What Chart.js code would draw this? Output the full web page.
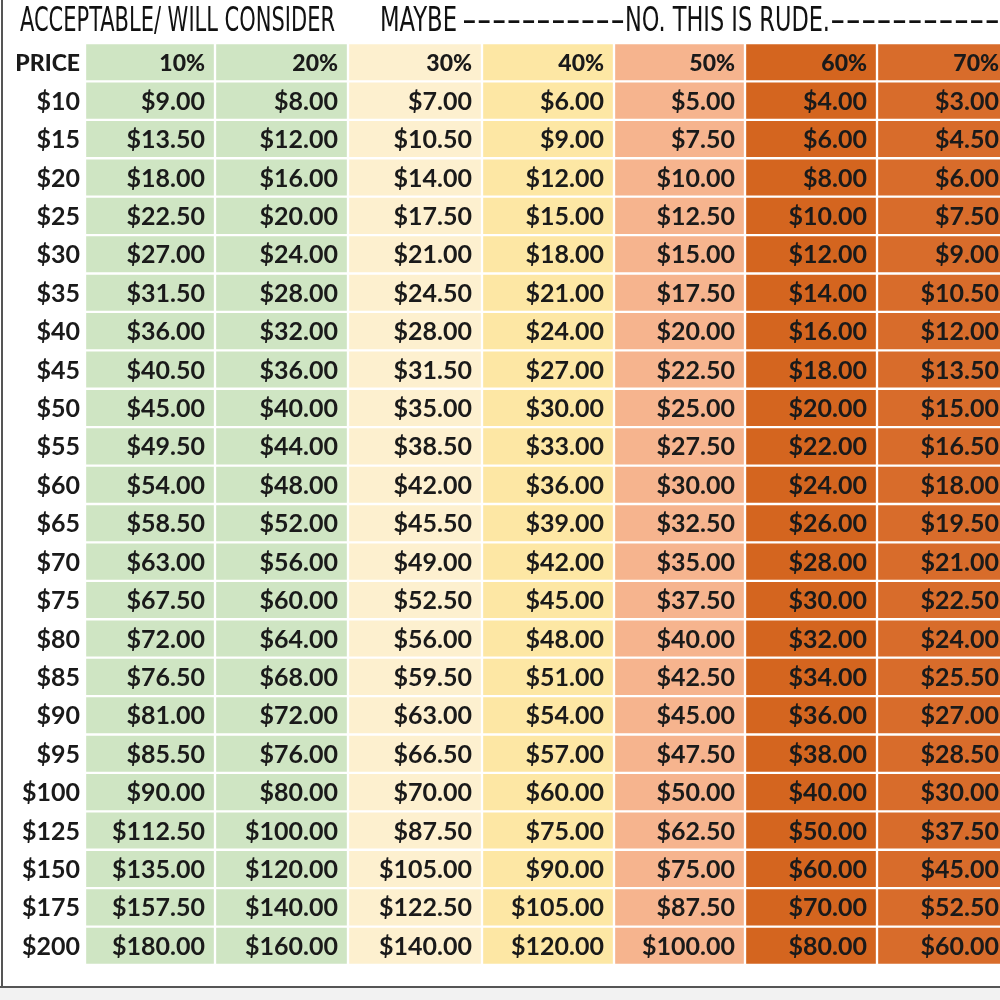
<!DOCTYPE html>
<html><head><meta charset="utf-8">
<script src="https://cdn.jsdelivr.net/npm/chart.js@4"></script>
<style>html,body{margin:0;padding:0;background:#fff}#w{width:1000px;height:1000px;position:relative}</style>
</head><body><div id="w"><canvas id="c"></canvas></div>
<script>
const columns = ['PRICE','10%','20%','30%','40%','50%','60%','70%'];
const colWidths = [85,130,133,134,132,131,132,132];
const colColors = ['#ffffff','#cfe5c3','#cfe5c3','#fdf0cf','#fde7a4','#f6b48e','#d4651f','#d86c2b'];
const prices = ['$10','$15','$20','$25','$30','$35','$40','$45','$50','$55','$60','$65','$70','$75','$80','$85','$90','$95','$100','$125','$150','$175','$200'];
const off10 = ['$9.00','$13.50','$18.00','$22.50','$27.00','$31.50','$36.00','$40.50','$45.00','$49.50','$54.00','$58.50','$63.00','$67.50','$72.00','$76.50','$81.00','$85.50','$90.00','$112.50','$135.00','$157.50','$180.00'];
const off20 = ['$8.00','$12.00','$16.00','$20.00','$24.00','$28.00','$32.00','$36.00','$40.00','$44.00','$48.00','$52.00','$56.00','$60.00','$64.00','$68.00','$72.00','$76.00','$80.00','$100.00','$120.00','$140.00','$160.00'];
const off30 = ['$7.00','$10.50','$14.00','$17.50','$21.00','$24.50','$28.00','$31.50','$35.00','$38.50','$42.00','$45.50','$49.00','$52.50','$56.00','$59.50','$63.00','$66.50','$70.00','$87.50','$105.00','$122.50','$140.00'];
const off40 = ['$6.00','$9.00','$12.00','$15.00','$18.00','$21.00','$24.00','$27.00','$30.00','$33.00','$36.00','$39.00','$42.00','$45.00','$48.00','$51.00','$54.00','$57.00','$60.00','$75.00','$90.00','$105.00','$120.00'];
const off50 = ['$5.00','$7.50','$10.00','$12.50','$15.00','$17.50','$20.00','$22.50','$25.00','$27.50','$30.00','$32.50','$35.00','$37.50','$40.00','$42.50','$45.00','$47.50','$50.00','$62.50','$75.00','$87.50','$100.00'];
const off60 = ['$4.00','$6.00','$8.00','$10.00','$12.00','$14.00','$16.00','$18.00','$20.00','$22.00','$24.00','$26.00','$28.00','$30.00','$32.00','$34.00','$36.00','$38.00','$40.00','$50.00','$60.00','$70.00','$80.00'];
const off70 = ['$3.00','$4.50','$6.00','$7.50','$9.00','$10.50','$12.00','$13.50','$15.00','$16.50','$18.00','$19.50','$21.00','$22.50','$24.00','$25.50','$27.00','$28.50','$30.00','$37.50','$45.00','$52.50','$60.00'];
const titles = ['ACCEPTABLE/ WILL CONSIDER','MAYBE','-----------','NO. THIS IS RUDE.','-----------'];

const colText = [prices,off10,off20,off30,off40,off50,off60,off70];
const rows = ['HEADER'].concat(prices);

const datasets = columns.map((c,i)=>({
  label:c,
  data: rows.map(()=>colWidths[i]),
  backgroundColor: colColors[i],
  borderColor: i===0 ? '#ffffff' : 'rgba(255,255,255,0.85)',
  borderWidth: i===0 ? 0 : 1.5,
  borderSkipped:false,
  barPercentage:1, categoryPercentage:1
}));

const textPlugin = {
  id:'txt',
  afterDraw(chart){
    const ctx=chart.ctx; ctx.save();
    ctx.fillStyle='#f2f2f2'; ctx.fillRect(0,988,1000,12);
    ctx.fillStyle='#555'; ctx.fillRect(0,986,1000,2);
    ctx.fillRect(1,0,2,987);
    ctx.restore();
  },
  afterDatasetsDraw(chart){
    const ctx=chart.ctx;
    ctx.save();
    ctx.fillStyle='#1a1a1a'; ctx.textBaseline='middle'; ctx.textAlign='right';
    chart.data.datasets.forEach((ds,ci)=>{
      const meta=chart.getDatasetMeta(ci);
      meta.data.forEach((bar,ri)=>{
        const right = bar.x - (ci===0?5:10);
        let t, font;
        if(ri===0){ t=columns[ci]; font='900 23px Lato'; }
        else { t=colText[ci][ri-1]; font='bold 25px Lato'; }
        ctx.font=font;
        ctx.fillText(t, right, bar.y+1);
      });
    });
    ctx.font='32px "Liberation Sans Narrow", "DejaVu Sans Condensed"';
    ctx.textAlign='left'; ctx.fillStyle='#111';
    const spans=[[20,335],[380,457],[462,625],[625,830],[830,1000]];
    titles.forEach((t,i)=>{
      const w=ctx.measureText(t).width, sx=(spans[i][1]-spans[i][0])/w;
      ctx.save(); ctx.translate(spans[i][0],22); ctx.scale(sx,1.05);
      ctx.fillText(t,0,0); ctx.restore();
    });
    ctx.restore();
  }
};

new Chart(document.getElementById('c'),{
  type:'bar',
  data:{labels:rows, datasets},
  options:{
    indexAxis:'y', responsive:true, maintainAspectRatio:false, animation:false,
    layout:{padding:{top:43,bottom:35,left:0,right:0}},
    plugins:{legend:{display:false},tooltip:{enabled:false}},
    scales:{
      x:{stacked:true,min:0,max:1000,display:false},
      y:{stacked:true,display:false}
    }
  },
  plugins:[textPlugin]
});
</script></body></html>
